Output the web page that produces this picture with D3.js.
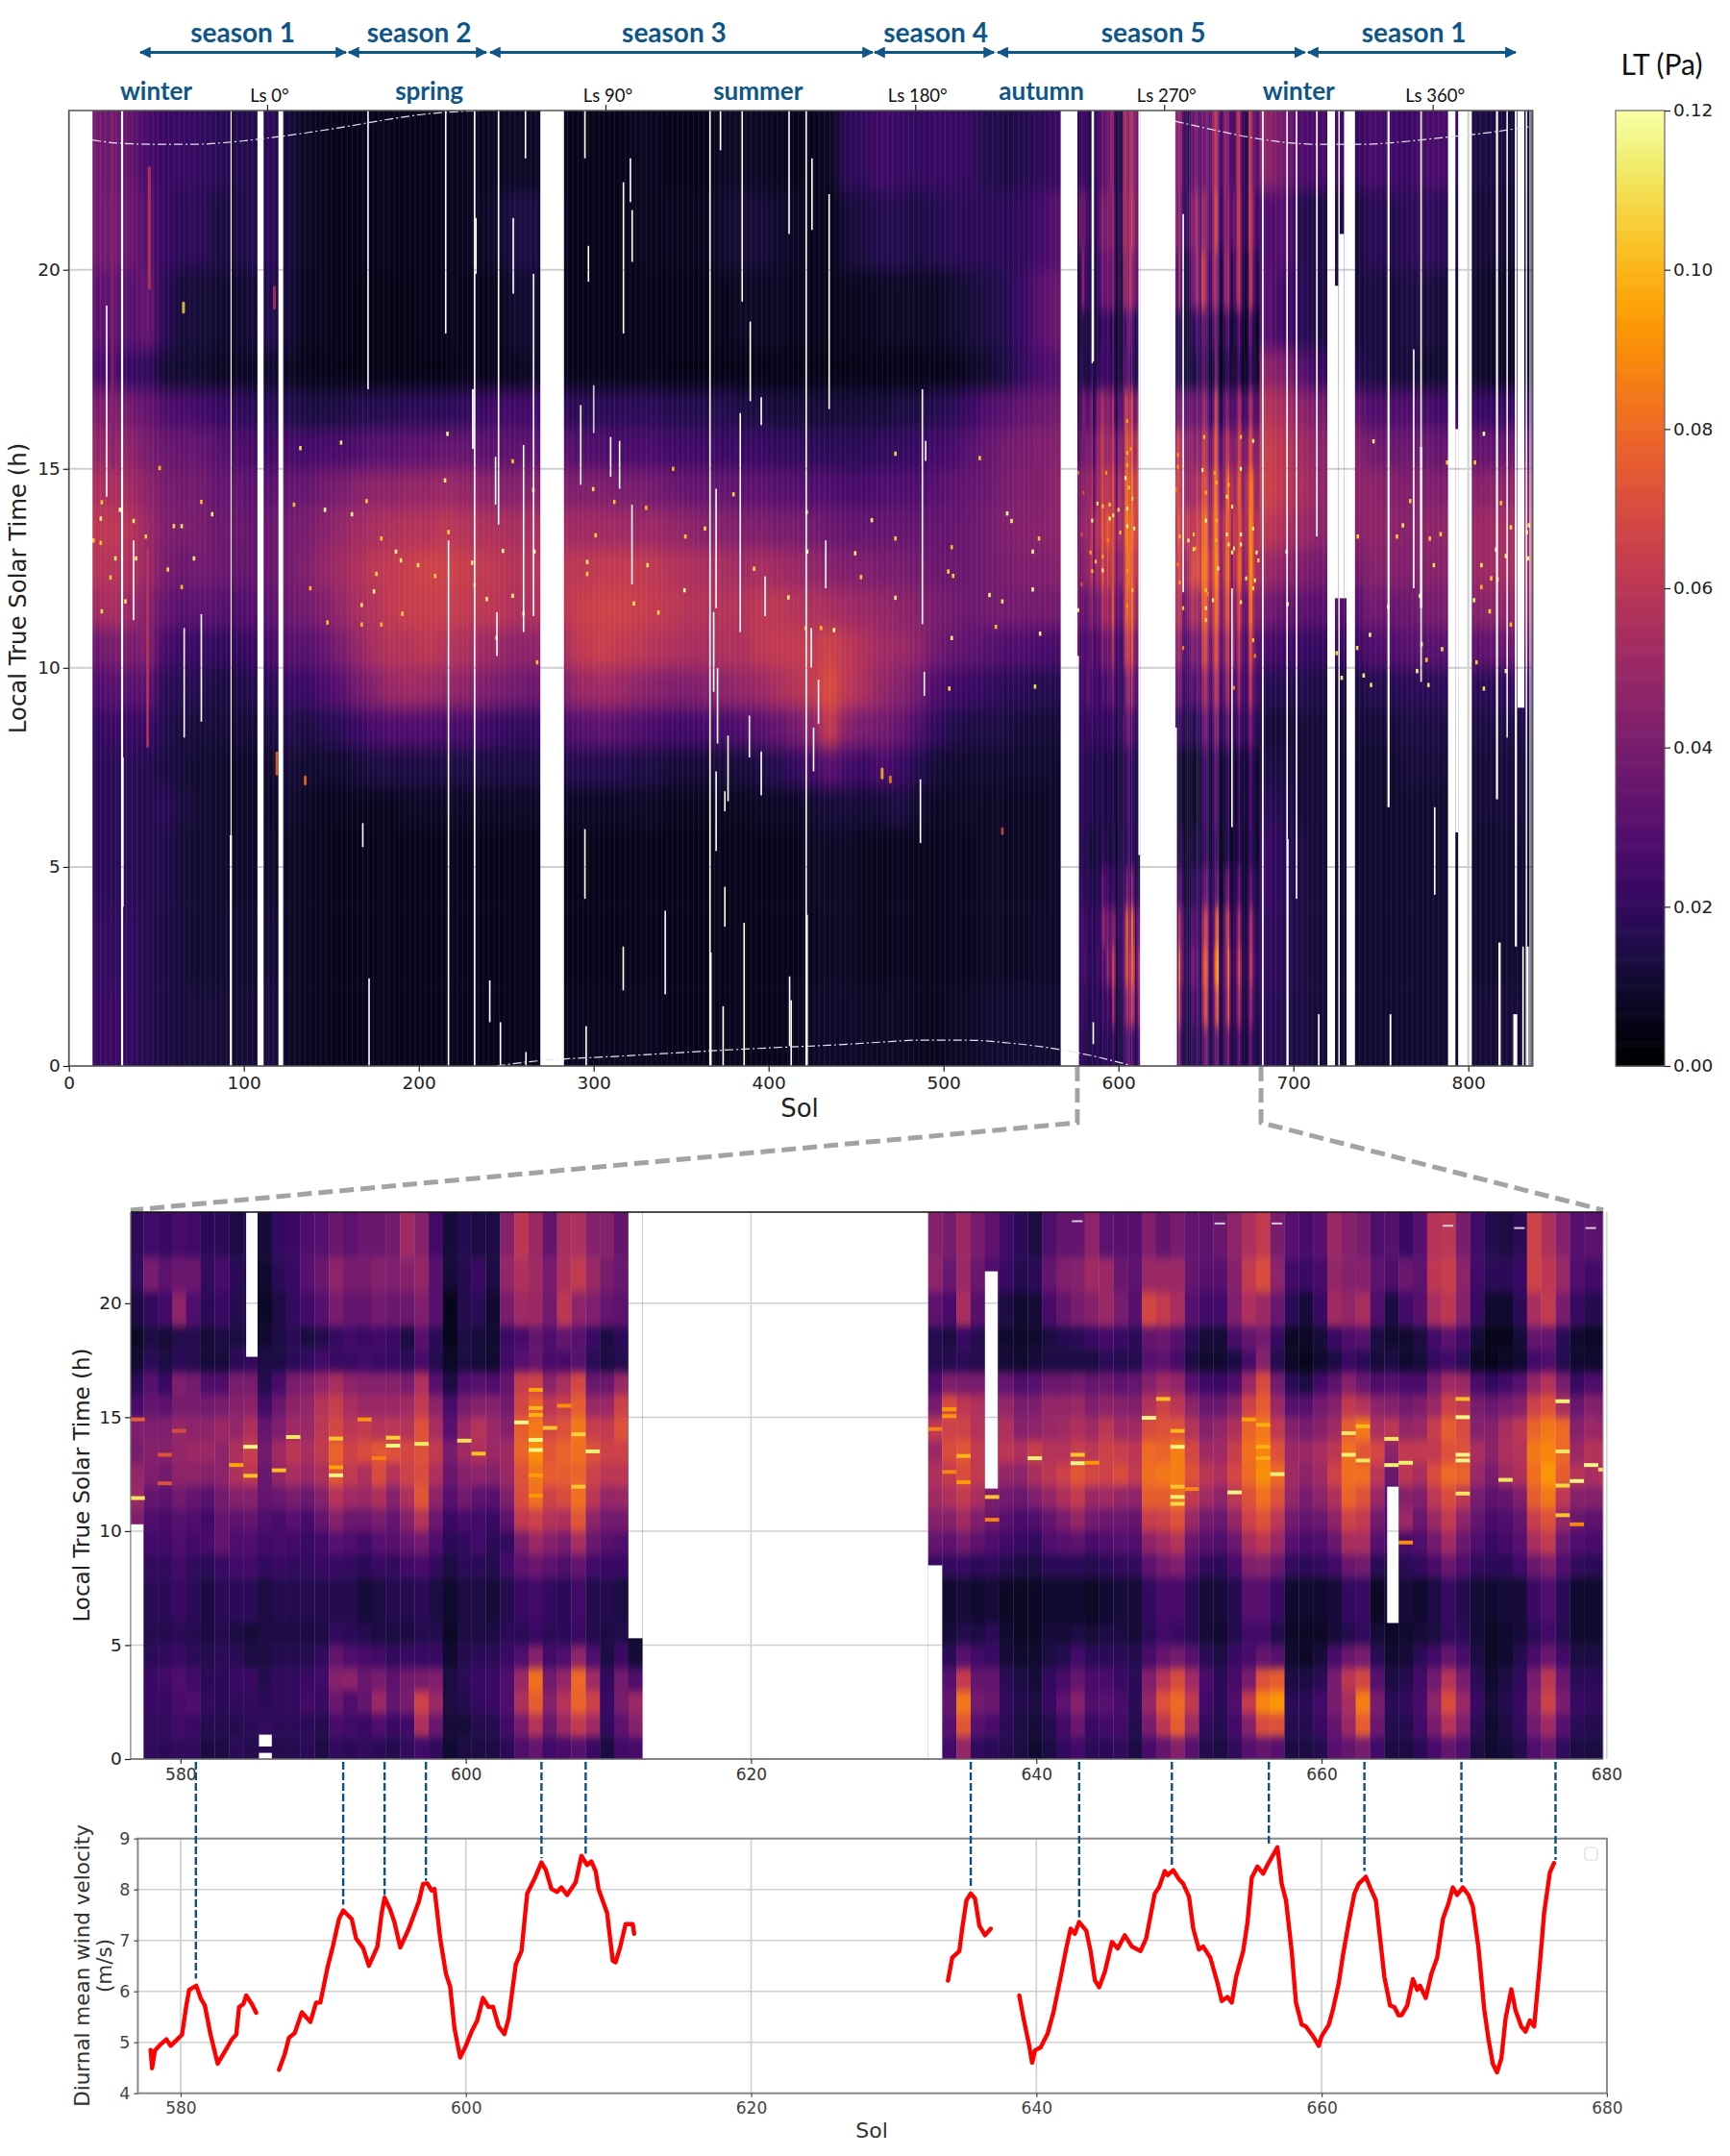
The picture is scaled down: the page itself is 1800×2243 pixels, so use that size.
<!DOCTYPE html>
<html>
<head>
<meta charset="utf-8">
<script src="https://cdn.jsdelivr.net/npm/d3@7"></script>
<style>
  body { margin: 0; background: #fff; }
  text { font-family: "DejaVu Sans", sans-serif; }
</style>
</head>
<body>
<svg id="chart" width="1800" height="2243"></svg>
<script>
// all LT values in mPa (colour scale runs 0 - 120 mPa = 0.12 Pa)
const topBands = [0,2,4,6,7,8,9,10,11,12,13,14,15,16,17,18,20,22,24];
const topSols = [14,20,30,40,50,60,70,80,90,100,110,120,130,140,150,160,170,180,190,200,210,220,230,240,250,260,270,283,290,300,310,320,330,340,350,360,370,380,390,400,410,420,430,440,450,460,470,480,490,500,510,520,530,540,550,560,570,680,690,700,710,720,730,740,750,760,770,780,790,800,810,820,830];
const topLT = [
[22,20,18,18,18,20,28,36,52,58,60,55,48,42,26,32,38,38],
[22,20,18,18,18,22,30,40,54,58,60,55,48,42,26,32,38,36],
[20,20,18,18,18,22,30,40,50,56,58,52,46,38,22,30,36,34],
[16,16,16,16,16,22,32,42,44,50,50,46,40,34,20,34,30,26],
[14,14,15,18,14,16,18,26,34,40,42,40,36,28,12,18,22,22],
[12,12,12,13,12,13,16,22,30,36,40,38,34,26,10,12,18,22],
[12,10,10,10,10,12,16,22,32,38,40,38,34,24,10,12,18,20],
[12,10,10,10,10,12,14,20,30,36,36,34,30,22,8,10,14,18],
[11,10,9,9,9,12,14,20,28,34,36,34,28,20,8,10,14,16],
[12,10,9,9,9,12,16,22,30,34,34,32,26,18,8,12,16,16],
[14,12,10,9,10,14,18,26,32,36,36,32,24,18,10,16,18,18],
[8,8,8,10,12,16,22,30,36,38,38,34,26,16,8,12,12,12],
[7,7,7,8,10,14,22,30,38,42,40,34,24,14,6,7,8,8],
[7,7,7,7,10,16,26,34,42,48,44,38,26,14,6,7,7,7],
[6,6,6,7,10,18,30,40,48,52,48,40,26,14,5,6,6,6],
[6,6,6,7,12,22,38,48,54,56,52,44,28,16,5,5,6,6],
[6,6,6,7,14,26,44,54,58,60,54,46,30,16,5,5,6,6],
[6,6,6,7,14,28,50,58,62,62,56,46,30,16,5,5,6,6],
[6,6,6,8,14,28,52,58,64,64,58,48,32,18,5,5,6,6],
[6,6,6,8,14,28,50,60,64,66,58,48,32,18,5,6,6,6],
[6,6,6,8,14,26,48,58,64,66,60,50,34,18,5,6,6,6],
[6,6,6,8,14,26,46,56,62,64,58,48,34,20,6,6,7,7],
[6,6,6,8,14,24,42,52,60,62,56,46,32,22,6,6,8,7],
[6,6,6,8,14,22,40,50,60,60,56,44,32,24,7,7,10,8],
[6,6,6,8,14,20,38,46,56,58,54,44,32,24,7,10,14,8],
[6,6,6,8,14,20,36,46,56,58,54,44,32,24,8,10,14,8],
[6,6,6,8,14,20,36,46,56,58,54,44,32,24,8,8,10,8],
[7,6,6,8,16,28,46,58,62,60,52,42,30,18,6,6,6,6],
[7,6,6,8,16,30,50,62,64,60,52,42,28,18,6,6,6,6],
[7,6,6,8,16,32,52,64,66,62,52,42,28,18,6,6,6,6],
[7,6,6,8,16,30,50,62,66,62,52,40,26,18,6,6,6,6],
[7,6,6,8,14,28,46,60,64,62,50,40,26,18,6,6,7,7],
[7,6,6,8,14,26,44,58,62,60,50,38,26,18,6,6,7,7],
[6,6,6,7,12,24,42,56,60,58,48,36,24,16,5,6,7,6],
[6,6,6,7,12,24,42,54,58,56,46,34,24,16,5,6,7,6],
[6,6,6,7,12,26,44,54,58,54,44,34,24,16,5,6,7,6],
[6,6,6,7,12,26,46,56,58,54,44,34,22,16,5,6,10,8],
[6,6,6,7,12,28,48,56,58,52,42,32,22,14,5,8,12,8],
[6,6,6,8,14,30,50,60,60,54,42,32,22,14,5,8,12,8],
[6,6,6,8,16,34,54,62,60,52,40,30,20,12,5,8,10,7],
[7,6,6,8,20,38,58,62,58,50,40,30,20,12,5,7,8,6],
[8,7,8,10,24,46,62,62,56,48,38,28,18,12,5,6,6,6],
[9,8,8,12,30,62,70,66,54,44,36,28,18,12,5,6,6,8],
[9,8,8,12,24,44,60,60,52,42,34,26,18,12,5,7,12,18],
[8,7,7,11,22,40,54,56,50,42,34,26,18,12,5,7,14,20],
[8,7,7,12,26,38,48,52,48,40,34,28,20,12,5,8,16,24],
[8,7,7,14,22,34,44,50,46,40,34,28,20,14,5,8,16,22],
[7,7,7,10,16,28,38,46,44,38,34,28,22,14,5,8,14,20],
[7,7,7,8,12,20,28,38,40,36,34,30,24,16,6,8,16,22],
[8,7,7,8,10,16,24,34,38,36,34,32,26,18,6,10,18,22],
[8,7,7,8,10,14,22,32,36,36,36,34,30,22,8,12,18,20],
[10,8,8,8,10,14,20,30,38,38,38,36,34,28,10,14,18,16],
[10,8,8,8,10,14,18,28,38,40,42,40,38,30,14,16,18,14],
[11,8,8,8,10,12,18,28,38,42,44,42,40,34,20,22,20,16],
[11,9,8,8,10,12,16,26,38,42,44,42,42,36,26,30,24,18],
[11,9,9,9,10,12,16,26,38,44,46,46,44,38,30,36,30,22],
[11,9,9,9,10,12,16,26,38,44,46,46,44,38,30,36,30,22],
[18,20,22,18,14,12,16,26,38,50,60,66,64,58,46,30,28,46],
[16,18,18,16,14,12,16,24,34,46,56,60,60,54,42,24,30,38],
[14,14,14,12,12,12,16,22,32,42,50,54,52,46,30,18,16,28],
[12,12,12,12,12,12,14,20,30,38,46,48,46,40,22,14,14,26],
[12,12,12,12,12,12,14,22,30,38,44,46,44,36,18,14,14,24],
[10,10,10,10,10,12,14,22,30,38,44,46,44,34,16,12,12,20],
[10,10,10,10,10,12,16,28,38,44,46,46,38,28,14,14,18,26],
[10,10,10,10,10,12,16,28,36,44,46,44,36,28,12,12,16,24],
[10,10,10,10,12,14,18,30,36,42,44,42,36,28,12,14,18,22],
[10,10,10,10,12,14,18,30,38,44,46,42,36,26,10,14,20,26],
[10,10,10,10,12,14,18,30,40,44,46,42,34,24,10,12,18,26],
[10,10,10,10,12,14,18,30,40,46,48,44,34,22,10,10,14,20],
[12,10,10,12,12,14,18,32,44,50,50,44,34,22,10,10,12,14],
[12,10,10,12,12,14,18,34,46,52,52,46,34,22,8,8,12,14],
[12,10,10,12,12,14,20,36,48,54,54,48,36,22,8,8,10,12],
[10,10,10,12,12,14,20,36,46,52,52,46,34,20,8,8,10,12]
];
// narrow streaks: sol, from h, to h, mPa
const topStreaks = [[46,19.5,22.6,60],[65.5,18.9,19.2,105],[117.5,19,19.6,56],[45,8,13,58],[25,15,24,44],[118.9,7.3,7.9,80],[135.1,7.05,7.3,80],[533.6,5.8,6,66],[464.9,7.2,7.5,100],[469.6,7.1,7.3,88]];

const panelBands = [0,1,2,3,4,5,6,8,9,10,11,12,13,14,15,16,17,18,19,20.5,22,24];
const panelSols = d3.range(577,613).concat(d3.range(633,681));
const panelLT = [
[16,16,16,16,16,16,16,16,16,42,50,48,40,42,26,18,10,8,14,20,18],
[20,20,22,22,18,16,18,20,24,28,34,42,44,42,34,30,18,14,20,40,24],
[18,20,22,24,20,16,18,20,24,26,32,38,44,42,32,22,14,12,24,32,22],
[20,24,26,28,22,18,22,24,28,30,38,46,48,48,40,42,18,16,46,36,26],
[20,22,28,24,18,16,18,20,24,28,34,46,50,46,40,38,16,16,28,36,24],
[14,16,20,18,16,14,14,18,26,24,30,44,50,46,38,28,12,12,18,20,18],
[14,16,18,18,18,16,18,22,34,34,38,46,46,50,40,28,12,14,22,26,18],
[18,16,20,22,18,14,18,24,28,32,44,56,56,48,44,40,18,14,16,18,14],
[16,18,20,22,14,12,18,24,28,34,44,60,64,56,46,40,20,12,14,14,16],
[18,20,18,16,14,14,14,20,24,28,34,36,38,34,24,16,14,10,8,10,12],
[16,18,20,20,16,14,16,22,26,26,36,48,52,42,36,26,14,14,14,18,20],
[16,18,20,20,16,14,16,20,24,30,40,54,60,52,46,40,18,18,20,22,22],
[18,18,24,22,16,14,16,20,22,26,36,50,54,50,48,42,20,14,24,30,28],
[14,16,22,24,20,14,16,22,24,34,44,56,62,60,58,48,24,16,30,36,30],
[20,26,36,44,34,20,16,22,30,44,58,74,78,68,64,54,22,20,40,46,36],
[18,24,28,46,28,18,16,20,28,36,52,62,66,60,54,46,22,24,34,40,32],
[20,22,34,36,26,16,12,18,24,36,50,56,70,62,50,44,24,22,34,40,36],
[18,28,50,40,24,14,14,22,30,40,56,70,74,58,50,44,22,24,38,44,36],
[16,22,34,32,20,14,16,20,30,34,44,58,72,60,50,44,22,22,36,42,38],
[20,24,40,38,22,14,16,24,34,44,56,66,68,58,52,40,18,14,36,44,52],
[24,56,66,40,22,16,18,26,38,58,74,70,72,72,62,56,26,30,42,48,44],
[20,36,50,42,22,16,14,20,28,36,46,56,62,54,46,30,16,18,30,30,24],
[10,12,14,14,10,8,10,14,18,22,30,36,40,30,26,14,8,6,6,12,12],
[14,12,16,18,16,14,14,18,20,26,38,44,52,50,40,28,14,14,16,16,16],
[14,16,20,22,18,14,14,18,24,24,32,46,56,58,44,30,12,12,18,22,14],
[14,16,22,22,18,14,12,16,18,22,30,44,50,50,44,28,10,10,10,14,14],
[18,24,28,28,22,18,16,24,20,32,42,50,52,44,38,34,24,22,40,48,44],
[28,40,56,50,28,18,22,32,40,62,70,72,78,76,68,64,30,26,52,56,60],
[34,58,76,82,44,22,24,36,50,66,82,84,90,84,78,66,34,34,50,52,50],
[24,36,44,38,24,18,20,32,44,58,66,76,74,68,60,46,26,28,38,40,34],
[26,50,58,48,28,18,18,28,40,56,70,76,78,72,64,54,26,34,60,56,54],
[30,62,78,80,46,22,24,34,54,74,82,78,82,84,76,68,30,30,46,62,56],
[22,52,66,52,28,16,16,24,36,46,60,66,72,64,50,36,18,22,42,50,44],
[14,20,22,20,14,14,16,22,30,38,48,60,66,62,50,36,14,14,34,40,44],
[24,32,40,38,22,16,14,22,28,38,50,60,66,72,66,50,16,18,32,36,34],
[26,44,50,28,12,10,10,10,10,10,10,10,10,10,10,10,10,10,10,10,10],
[16,16,16,16,16,16,16,22,34,44,52,56,50,62,40,28,16,16,32,46,44],
[24,30,34,30,18,12,10,20,32,44,56,62,70,66,70,42,16,14,26,36,40],
[48,74,84,62,30,16,12,22,38,52,62,70,74,66,60,40,18,22,54,50,50],
[20,30,38,34,24,14,10,18,32,42,54,62,62,58,56,40,16,16,30,36,40],
[18,26,36,34,22,18,12,20,28,36,40,54,54,50,44,30,14,12,20,28,32],
[16,18,20,18,12,10,8,16,24,30,38,48,60,56,48,34,12,10,14,22,24],
[14,14,16,14,10,8,8,14,22,26,36,46,56,44,40,28,10,8,10,16,18],
[10,12,14,12,10,8,8,14,20,28,42,54,64,46,42,30,12,10,12,18,14],
[14,16,22,20,14,12,10,18,28,34,48,60,58,50,48,36,14,14,26,34,28],
[20,24,32,26,16,12,10,18,30,40,56,66,58,52,48,36,14,16,34,42,34],
[24,36,44,34,24,14,10,18,32,48,62,74,64,56,50,38,14,18,40,44,34],
[18,22,28,26,18,12,8,16,26,38,50,68,60,52,42,34,14,22,44,52,46],
[18,24,30,26,18,14,10,18,28,36,52,66,66,60,46,36,18,24,50,50,32],
[20,24,26,22,18,14,12,20,30,36,48,70,64,52,44,32,16,22,40,36,30],
[14,16,18,18,16,12,12,20,28,34,46,62,60,52,42,34,16,18,30,32,30],
[26,40,48,42,26,18,20,32,46,64,76,82,80,70,58,44,30,34,68,50,42],
[34,60,72,58,34,24,26,38,52,66,76,84,78,72,66,52,32,36,62,50,34],
[44,76,80,70,38,22,26,42,58,72,82,86,86,72,60,48,26,30,54,50,40],
[30,52,62,52,30,18,18,28,36,50,62,72,68,58,46,30,14,18,30,34,34],
[16,20,24,26,18,12,12,20,30,38,52,60,52,44,36,24,10,12,24,30,32],
[14,16,18,18,14,10,12,18,28,36,46,56,52,48,36,22,10,12,24,30,36],
[20,24,28,26,22,16,16,26,36,48,60,68,64,56,44,28,14,26,42,44,46],
[30,44,62,40,26,24,30,42,54,66,72,80,82,78,66,50,26,34,56,62,56],
[34,70,88,72,34,24,30,44,60,72,82,90,88,84,76,70,44,38,50,70,62],
[30,72,92,76,30,16,22,36,50,60,72,80,72,62,50,38,16,22,36,46,40],
[14,16,18,14,10,8,10,20,30,38,48,52,50,44,30,18,8,8,18,24,30],
[14,16,18,14,8,8,10,18,26,34,40,46,50,40,30,14,6,8,12,22,26],
[16,22,24,18,12,8,10,20,28,36,46,52,54,44,38,24,10,12,22,26,30],
[30,34,40,40,26,12,12,24,36,46,56,66,60,52,44,32,14,22,52,48,50],
[34,50,54,60,36,16,20,36,54,66,78,82,82,76,62,44,22,28,48,44,44],
[40,76,86,68,40,20,22,38,54,62,72,82,74,84,58,36,18,30,54,44,40],
[24,36,40,30,18,12,8,18,30,38,50,60,68,56,46,28,12,14,28,32,28],
[14,16,18,14,10,8,10,14,24,26,30,36,46,60,44,30,14,10,14,28,30],
[14,16,20,16,12,10,12,18,26,50,44,60,62,48,38,26,10,10,24,36,22],
[18,24,26,24,18,12,10,20,28,36,42,54,62,50,42,26,12,14,30,32,30],
[26,40,46,38,24,14,14,26,38,50,60,70,62,64,50,40,20,24,54,60,58],
[34,58,70,58,34,20,22,36,52,62,70,80,72,76,66,52,24,32,60,64,60],
[28,42,50,40,26,18,16,28,36,46,60,78,72,70,62,50,18,24,44,46,40],
[14,18,22,18,14,12,12,20,28,34,40,50,54,44,40,26,8,12,22,24,24],
[10,10,12,10,8,8,10,18,22,26,32,40,46,44,36,20,6,6,10,18,16],
[12,14,16,14,10,10,12,18,24,28,34,52,56,54,40,24,8,6,10,18,14],
[16,20,22,20,16,12,12,24,30,34,42,56,58,60,44,30,10,12,18,22,18],
[28,38,44,40,26,18,22,36,54,64,76,82,84,78,66,48,24,34,54,66,66],
[36,52,66,60,36,24,28,42,62,72,84,92,88,84,72,58,28,34,62,60,56],
[20,30,40,36,24,16,18,28,36,48,60,76,80,80,54,40,16,18,40,50,44],
[14,18,22,18,14,10,10,20,28,36,44,58,50,44,36,22,10,10,22,28,30],
[14,16,20,18,14,10,10,18,26,32,44,54,58,50,44,28,10,8,16,24,32],
[14,16,20,18,14,10,10,18,26,32,44,56,58,48,42,28,10,8,16,26,30]
];
// bright single readings in the zoomed heatmap: sol, hour, mPa
const panelHot = [[577,11.45,112],[577,14.9,76],[579,13.35,72],[579,12.1,72],[580,14.4,70],[584,12.9,96],[585,13.7,116],[585,12.43,102],[587,12.67,102],[588,14.13,112],[591,14.06,104],[591,12.8,96],[591,12.45,116],[593,14.9,92],[594,13.2,86],[595,14.1,106],[595,13.75,116],[597,13.83,112],[600,13.97,110],[601,13.4,102],[604,14.77,116],[605,14,116],[605,13.56,116],[605,16.2,96],[605,15.4,100],[605,15.1,98],[605,12.45,94],[605,11.55,92],[606,14.53,104],[607,15.5,90],[608,14.25,106],[608,11.95,104],[609,13.5,114],
[633,14.48,86],[634,15.35,92],[634,15.05,92],[635,13.3,100],[634,12.6,88],[635,12.15,94],[637,11.5,104],[637,10.5,86],[640,13.2,114],[643,13.35,104],[643,12.98,116],[644,13,92],[648,14.97,116],[649,15.8,102],[650,13.7,116],[650,14.4,100],[650,11.95,104],[650,11.5,114],[650,11.2,108],[651,11.85,88],[654,11.7,116],[655,14.9,96],[656,14.66,98],[656,13.7,98],[656,13.2,98],[657,12.5,114],[662,14.3,112],[662,13.35,114],[663,14.6,100],[663,13.1,112],[665,14.05,112],[665,12.9,114],[666,13,114],[666,9.5,90],[670,15.8,102],[670,15,116],[670,13.35,116],[670,13.1,116],[670,11.65,112],[673,12.25,112],[677,15.7,114],[677,13.5,112],[677,12,108],[678,12.2,116],[679,12.9,116],[677,10.7,104],[678,10.3,88],[680,12.7,110]];
const panelPale = [[643,23.6],[653,23.5],[657,23.5],[669,23.4],[674,23.3],[679,23.3]];

// hot specks of the full record: sol, hour
const specks = [[29.2,13.97],[18.8,14.16],[18.2,13.75],[14,13.2],[18.2,13.14],[23.8,12.27],[18.8,11.42],[26.6,12.75],[38.4,12.75],[44,13.3],[37,13.69],[51.9,15.02],[64.5,13.56],[75.7,14.17],[71.5,12.75],[64.5,12.03],[32.3,11.67],[56.6,12.47],[60,13.56],[81.9,13.86],[138,12],[147.8,11.14],[128.7,14.1],[155.6,15.66],[132.3,15.52],[146.4,13.97],[161.8,13.86],[170.2,14.19],[175.8,12.36],[167.4,11.58],[178.6,11.09],[190.6,11.36],[167.4,11.09],[174.4,11.92],[216.4,15.88],[215,14.71],[217,13.41],[230.5,12.64],[231.9,12.08],[238.9,11.73],[244.5,10.75],[248.1,12.94],[253.7,15.19],[253.7,11.81],[259.9,11.36],[266.1,12.92],[265.5,14.47],[267.7,10.14],[301.1,13.33],[296.3,12.66],[296.3,12.36],[299.7,14.49],[311.8,14.17],[330,14.02],[323,11.62],[337,11.39],[330.8,12.58],[351.9,11.95],[352.4,13.3],[345.4,15],[363.6,13.5],[379.9,14.36],[391.7,12.49],[411.3,11.77],[421.7,13.91],[422,12.92],[421.1,11],[430,11],[189.8,12.7],[199.6,12.58],[209.4,12.31],[187,12.92],[178.6,13.25],[472.5,15.38],[520.7,15.27],[459,13.71],[538.9,13.69],[536.4,13.88],[504.7,13.03],[449.5,12.88],[452.8,12.28],[472.5,13.25],[502.7,12.42],[505.5,12.31],[533.6,11.67],[526.3,11.83],[504.7,10.75],[437.4,10.95],[529.9,11.03],[551,12.92],[551,11.97],[554.6,13.25],[555.2,10.86],[472.5,11.76],[503.3,9.48],[552.3,9.53],[696.2,12.92],[696.7,11.6],[724.8,10.37],[727.6,9.75],[736.5,10.5],[743.8,10.83],[744.4,9.57],[740.2,9.81],[736.8,13.3],[745.8,15.69],[759.2,13.3],[762.6,13.58],[766.8,14.19],[754.2,11.53],[772.4,11.81],[773.3,10.59],[778,13.25],[784.2,13.36],[780.3,12.58],[787.9,15.16],[785,10.47],[770.7,9.92],[776.1,10.2],[777.2,9.57],[803.8,15.16],[808.9,15.88],[815.9,12.97],[816.7,12.22],[821.5,12.81],[807.5,12.03],[803.3,11.7],[812.2,11.42],[818.7,14.14],[824.3,13.53],[833.5,13.41],[831.3,11.36],[821.5,9.92],[808.9,9.48],[804.7,10.14],[824.3,11.09],[834.1,12.75],[834.6,13.58],[807.5,12.58],[813.1,12.25]];

// missing data: sol from, sol to, hour from, hour to
const topGaps = [[0,13.5,0,24],[29.8,31,0,24],[30,31.3,4,7.75],[92,93.2,0,5.8],[92.4,93,5.8,24],[107.8,111.3,0,24],[119.8,122.5,0,24],[230.4,231.4,15.5,17],[231.5,232.4,0,24],[269.5,283,0,24],[567,576.5,0,24],[576.5,577.4,0,10.3],[584.6,585.4,17.65,24],[611.4,612.4,5.3,24],[612.4,632.4,0,24],[632.4,633.4,0,8.5],[682,683,0,24],[696,697,0,5.7],[719.4,723.8,0,24],[725.7,726.5,0,24],[729,730.4,11.75,24],[730.4,735.2,0,24],[723.8,725.7,11.75,19.6],[726.5,729,11.75,20.9],[753.8,755,6.5,24],[755,756,0,1.3],[772.4,773.6,11.5,15.55],[788.4,792.6,0,24],[794.2,802,0,24],[792.6,794.2,5.87,16],[815.8,817,6.7,24],[817.2,818.5,0,3.1],[821.8,822.6,8.25,24],[825.7,828,0,1.3],[826.6,827.8,3,24],[828.2,832,9,24],[832.8,833.6,0,24],[835,835.6,0,24],[836.2,837,0,24]];
const panelGaps = [[576,577.4,0,10.3],[584.6,585.4,17.65,24],[585.5,586.4,0.55,1.07],[585.5,586.4,0,0.27],[611.4,612.4,5.3,24],[612.4,632.4,0,24],[632.4,633.4,0,8.5],[636.4,637.3,11.87,21.4],[664.6,665.4,5.97,11.95]];
// thin dropped lines: sol, hour from, hour to
const topLines = [[21.6,14.3,19.1],[37,11.2,13.2],[65.9,8.25,11],[75.7,8.65,11.35],[168,5.5,6.1],[171,17,24],[171.6,0,2.2],[215.4,18.4,24],[217,0,13.2],[232.7,19.9,21.3],[254,19.4,21.3],[261,22.8,24],[265.6,11.3,19.9],[245.6,13.6,24],[243.9,14.1,15.3],[259.9,10.9,15.6],[244.7,10.3,11.4],[240.6,1.1,2.15],[246.7,0,1.1],[261.3,0,0.35],[295,22.8,24],[297,19.7,20.6],[321,21.7,22.8],[322,20.2,21.5],[317,18.4,22.2],[366.5,0,24],[372.5,23,24],[384.9,19.2,24],[389.5,16.7,18.7],[411.7,20.9,24],[421.5,0,24],[424.8,21,22.8],[434.6,16.5,21.9],[292.6,14.6,16.6],[300,15.9,17.1],[309.7,14.8,15.8],[314.8,14.5,15.7],[321.9,12.1,14.1],[370,11.5,14.5],[368.6,9.4,11.4],[370.8,8.1,10],[383.8,10.9,16.4],[395.8,16.1,16.8],[389,7.75,8.8],[376.8,6.65,8.3],[375,6.4,6.9],[370,5.4,7.4],[395.8,6.8,7.9],[424.4,10,11],[428.5,8.6,9.7],[425.7,7.4,8.5],[398,11.3,12.3],[295,4.2,5.95],[316.9,1.9,3],[340.9,1.8,3.9],[375,3.5,4.5],[367,0,2.85],[374,0,1.5],[386,0,3.6],[412,0.5,2.25],[412.9,0,1.65],[422,0,3.8],[295.7,0,1],[432.7,12,13.2],[487.9,11.1,17],[489.8,15.2,15.7],[489,9.3,9.9],[486.8,5.6,7.2],[585.6,17.7,24],[585.6,0.55,1.1],[637,11.9,21.4],[664.9,6,12],[696.8,0,5.7],[696.4,5.7,24],[701.8,4.2,24],[713.4,13.3,24],[714.5,0,1.3],[768.8,12,18],[773,9.65,24],[780.8,4.3,6.5],[831.3,0,3],[834.1,0,3]];

// pale terminator curves: sol + hour
const curveSolA = [13.5,28.4,52.1,71,93.1,112,137.2,156.2,181.4,203.5,236.6];
const curveHourA = [23.26,23.18,23.15,23.15,23.21,23.3,23.45,23.58,23.77,23.91,24];
const curveSolB = [244.5,261.9,284,307.6,339,371,402.5,433.9,464.6,486.7,512,537,565.6,587.6,608];
const curveHourB = [0,0.1,0.18,0.23,0.31,0.39,0.46,0.52,0.6,0.65,0.65,0.58,0.42,0.23,0];
const curveSolC = [632.4,657,676,695,717,739,761,783,805,836];
const curveHourC = [23.73,23.49,23.32,23.2,23.15,23.15,23.21,23.31,23.41,23.6];

// annotations
const seasonNames = ["season 1","season 2","season 3","season 4","season 5","season 1"];
const seasonFrom = [40.8,160,240.8,460.6,531,708.4];
const seasonTo = [158.4,238.6,459.5,528.8,706.5,827];
const seasonMid = [99.4,200.2,346,495.5,620,768.9];
const earthNames = ["winter","spring","summer","autumn","winter"];
const earthMid = [49.9,206,394,556,703];
const lsNames = ["Ls 0°","Ls 90°","Ls 180°","Ls 270°","Ls 360°"];
const lsSols = [113.6,307,484.1,626.4,779.9];

// diurnal mean wind, four runs of data
const windSolA = [577.9,578,578.2,578.6,579,579.3,579.7,580.1,580.4,580.6,581.1,581.4,581.7,582.1,582.6,583,583.6,583.9,584.1,584.4,584.6,585,585.3];
const windA = [4.85,4.49,4.84,4.96,5.06,4.93,5.04,5.15,5.72,6.03,6.11,5.87,5.72,5.15,4.58,4.77,5.06,5.15,5.69,5.75,5.92,5.75,5.58];
const windSolB = [586.9,587.3,587.6,588,588.5,589.1,589.5,589.8,590.3,590.7,591.1,591.4,592,592.3,592.8,593.2,593.8,594.1,594.3,594.7,595,595.4,596,596.7,597,597.3,597.6,597.8,598.2,598.6,598.9,599.2,599.6,600,600.4,600.8,601.2,601.6,601.9,602.3,602.7,603,603.5,603.9,604.3,604.8,605.3,605.6,606,606.4,606.7,607.1,607.7,608.1,608.5,608.8,609.1,609.3,609.9,610.3,610.5,610.8,611.2,611.7,611.8];
const windB = [4.46,4.77,5.09,5.18,5.59,5.4,5.78,5.78,6.47,6.91,7.42,7.59,7.42,7.04,6.85,6.5,6.88,7.54,7.84,7.6,7.35,6.86,7.23,7.76,8.11,8.12,7.98,8.01,7.04,6.35,6.09,5.28,4.7,4.93,5.21,5.43,5.87,5.69,5.7,5.31,5.16,5.47,6.53,6.79,7.92,8.2,8.53,8.39,8.01,7.95,8.04,7.89,8.14,8.66,8.48,8.55,8.36,8.01,7.54,6.6,6.57,6.85,7.32,7.32,7.13];
const windSolC = [633.8,634.1,634.6,634.8,635.1,635.4,635.7,636,636.4,636.8];
const windC = [6.21,6.66,6.79,7.23,7.79,7.92,7.82,7.29,7.1,7.23];
const windSolD = [638.8,639.1,639.5,639.7,639.9,640.3,640.8,641.2,641.7,642.1,642.4,642.7,643,643.5,643.8,644.1,644.4,644.8,645.3,645.7,646.2,646.7,647.3,647.7,648.3,648.6,649,649.2,649.6,650,650.3,650.7,651,651.4,651.7,652.2,652.7,653,653.4,653.7,654,654.5,654.8,655.1,655.5,655.9,656.2,656.9,657.2,657.5,657.9,658.2,658.6,658.9,659.4,659.8,660,660.5,660.8,661.2,661.5,661.9,662.3,662.6,663.1,663.4,663.8,664.1,664.4,664.8,665.1,665.4,665.6,666,666.4,666.7,666.9,667.3,667.7,668.1,668.5,668.9,669.2,669.5,669.9,670.3,670.6,671,671.4,671.7,672,672.3,672.6,672.9,673.3,673.6,674,674.3,674.6,674.9,675.3,675.6,676,676.3];
const windD = [5.92,5.47,4.93,4.6,4.84,4.9,5.18,5.59,6.28,6.85,7.23,7.13,7.36,7.19,6.79,6.22,6.08,6.38,6.97,6.84,7.1,6.88,6.79,7.04,7.92,8.04,8.36,8.28,8.38,8.2,8.11,7.86,7.23,6.82,6.88,6.66,6.16,5.81,5.89,5.78,6.28,6.79,7.35,8.23,8.45,8.31,8.48,8.83,8.11,7.79,6.79,5.78,5.35,5.31,5.12,4.93,5.12,5.34,5.65,6.16,6.72,7.35,7.92,8.11,8.25,8.04,7.79,7.04,6.28,5.72,5.69,5.53,5.53,5.72,6.24,6.03,6.11,5.87,6.35,6.66,7.42,7.73,8.04,7.89,8.04,7.89,7.67,6.85,5.65,5.06,4.58,4.41,4.68,5.47,6.04,5.62,5.31,5.21,5.43,5.31,6.53,7.54,8.33,8.52];
// dashed links heatmap -> wind peak
const peakSols = [581.07,591.4,594.3,597.2,605.3,608.4,635.4,643,649.5,656.3,663,669.8,676.4];
const peakWind = [6.25,7.7,7.89,8.17,8.61,8.7,8.01,7.45,8.45,8.86,8.36,8.14,8.58];

const topTicksX = [0,100,200,300,400,500,600,700,800];
const hourTicks = [0,5,10,15,20];
const panelTicksX = [580,600,620,640,660,680];
const windTicks = [4,5,6,7,8,9];
const cbTicks = [0,20,40,60,80,100,120];

const BLUE = "#0f5688", GRID = "#cfcfcf", SPINE = "#555";
const svg = d3.select("#chart");
const defs = svg.append("defs");
const color = v => d3.interpolateInferno(Math.min(v, 120) / 120);

const xTop = d3.scaleLinear().domain([0, 836.8]).range([71.7, 1594.7]);
const yTop = d3.scaleLinear().domain([0, 24]).range([1109, 115]);
const xPanel = d3.scaleLinear().domain([576.5, 679.75]).range([135.9, 1668.1]);
const yPanel = d3.scaleLinear().domain([0, 24]).range([1830, 1261]);
const xWind = d3.scaleLinear().domain([577, 680]).range([143.4, 1671.9]);
const yWind = d3.scaleLinear().domain([4, 9]).range([2177.7, 1912.7]);
const yBar = d3.scaleLinear().domain([0, 120]).range([1109, 115]);

function gridLines(g, xs, ys, x, y, w) {
  g.selectAll(".gv").data(xs).join("line")
    .attr("x1", x).attr("x2", x).attr("y1", y.range()[0]).attr("y2", y.range()[1])
    .attr("stroke", GRID).attr("stroke-width", w);
  g.selectAll(".gh").data(ys).join("line")
    .attr("x1", x.range()[0]).attr("x2", x.range()[1]).attr("y1", y).attr("y2", y)
    .attr("stroke", GRID).attr("stroke-width", w);
}
function makeMask(id, x, y, gaps) {
  const m = defs.append("mask").attr("id", id).attr("maskUnits", "userSpaceOnUse")
    .attr("x", 0).attr("y", 0).attr("width", 1800).attr("height", 2243);
  m.append("rect").attr("x", x.range()[0]).attr("y", y.range()[1])
    .attr("width", x.range()[1] - x.range()[0]).attr("height", y.range()[0] - y.range()[1]).attr("fill", "#fff");
  m.selectAll(".gap").data(gaps).join("rect")
    .attr("x", d => x(d[0])).attr("width", d => x(d[1]) - x(d[0]))
    .attr("y", d => y(d[3])).attr("height", d => y(d[2]) - y(d[3])).attr("fill", "#000");
  return m;
}
function styleAxis(g, size, col) {
  g.selectAll("text").attr("font-size", size).attr("fill", col).attr("font-family", "DejaVu Sans");
  g.selectAll("line").attr("stroke", col).attr("stroke-width", 1.2);
  g.select(".domain").remove();
}
function blur(id, sx, sy) {
  defs.append("filter").attr("id", id).attr("filterUnits", "userSpaceOnUse")
    .attr("x", -200).attr("y", -200).attr("width", 2200).attr("height", 2700)
    .attr("color-interpolation-filters", "sRGB")
    .append("feGaussianBlur").attr("stdDeviation", `${sx} ${sy}`);
}
blur("coarseBlur", 5, 9);
blur("colBlur", 0.25, 7);
blur("rowBlur", 0, 4.5);

// ---- top heatmap
gridLines(svg.append("g"), topTicksX, hourTicks, xTop, yTop, 2);

const topMask = makeMask("topMask", xTop, yTop, topGaps);
topMask.selectAll(".ln").data(topLines).join("rect")
  .attr("x", d => xTop(d[0]) - 0.8).attr("width", 1.6)
  .attr("y", d => yTop(d[2])).attr("height", d => yTop(d[1]) - yTop(d[2])).attr("fill", "#000");

const heat = svg.append("g").attr("mask", "url(#topMask)");

const coarse = heat.append("g").attr("filter", "url(#coarseBlur)");
topSols.forEach((s, i) => {
  const next = i + 1 < topSols.length ? topSols[i + 1] : 900;
  const from = i === 0 ? -40 : s === 680 ? 660 : s;
  const to = s === 570 ? 600 : next;
  topLT[i].forEach((v, b) => {
    const y0 = b === 0 ? 1180 : yTop(topBands[b]);
    const y1 = b === topLT[i].length - 1 ? 40 : yTop(topBands[b + 1]);
    coarse.append("rect").attr("x", xTop(from)).attr("width", xTop(to) - xTop(from) + 0.5)
      .attr("y", y1).attr("height", y0 - y1 + 0.5).attr("fill", color(v));
  });
});
const fine = heat.append("g").attr("filter", "url(#colBlur)");
panelSols.forEach((s, i) => {
  panelLT[i].forEach((v, b) => {
    const y0 = b === 0 ? 1180 : yTop(panelBands[b]);
    const y1 = b === 20 ? 40 : yTop(panelBands[b + 1]);
    fine.append("rect").attr("x", xTop(s - 0.6)).attr("width", xTop(s + 0.4) - xTop(s - 0.6) + 0.3)
      .attr("y", y1).attr("height", y0 - y1 + 0.5).attr("fill", color(v));
  });
});
heat.selectAll(".streak").data(topStreaks).join("rect")
  .attr("x", d => xTop(d[0]) - 1.5).attr("width", 3).attr("rx", 1.5)
  .attr("y", d => yTop(d[2])).attr("height", d => yTop(d[1]) - yTop(d[2]))
  .attr("fill", d => color(d[3])).attr("opacity", 0.85);
heat.selectAll(".hair").data(d3.range(15, 837, 3)).join("line")
  .attr("x1", xTop).attr("x2", xTop).attr("y1", 115).attr("y2", 1109)
  .attr("stroke", "#fff").attr("stroke-opacity", 0.1).attr("stroke-width", 0.8);
heat.selectAll(".speck").data(specks).join("rect")
  .attr("x", d => xTop(d[0]) - 1.3).attr("width", 2.6)
  .attr("y", d => yTop(d[1]) - 2.2).attr("height", 4.4)
  .attr("fill", d => color(100 + (d[1] % 1) * 18));
heat.selectAll(".hot").data(panelHot).join("rect")
  .attr("x", d => xTop(d[0] - 0.6)).attr("width", 2.2)
  .attr("y", d => yTop(d[1]) - 2).attr("height", 4)
  .attr("fill", d => color(d[2]));

[[curveSolA, curveHourA], [curveSolB, curveHourB], [curveSolC, curveHourC]].forEach(([sx, hy]) => {
  svg.append("path").datum(sx.map((s, i) => [s, hy[i]]))
    .attr("d", d3.line().x(d => xTop(d[0])).y(d => yTop(d[1])).curve(d3.curveMonotoneX))
    .attr("fill", "none").attr("stroke", "#e8e4ee").attr("stroke-width", 1.2).attr("stroke-dasharray", "9,3,2,3");
});

// spines + axes of top heatmap
svg.append("path").attr("d", `M${xTop.range()[0]},115V1109H${xTop.range()[1]}V115Z`)
  .attr("fill", "none").attr("stroke", SPINE).attr("stroke-width", 1.6);
const axTopX = svg.append("g").attr("transform", "translate(0,1109)")
  .call(d3.axisBottom(xTop).tickValues(topTicksX).tickFormat(d3.format("d")).tickPadding(5));
styleAxis(axTopX, 18.5, "#222");
const axTopY = svg.append("g").attr("transform", `translate(${xTop.range()[0]},0)`)
  .call(d3.axisLeft(yTop).tickValues(hourTicks).tickFormat(d3.format("d")));
styleAxis(axTopY, 18.5, "#222");
svg.append("text").attr("x", 832).attr("y", 1162).attr("text-anchor", "middle").attr("font-size", 26).attr("fill", "#222").text("Sol");
svg.append("text").attr("transform", "translate(27,612) rotate(-90)").attr("text-anchor", "middle")
  .attr("font-size", 24.4).attr("fill", "#222").text("Local True Solar Time (h)");

// seasons on top
defs.append("marker").attr("id", "head").attr("viewBox", "0 0 10 10").attr("refX", 9).attr("refY", 5)
  .attr("markerWidth", 4).attr("markerHeight", 4).attr("markerUnits", "strokeWidth").attr("orient", "auto-start-reverse")
  .append("path").attr("d", "M0,0L10,5L0,10Z").attr("fill", BLUE);
svg.selectAll(".sarrow").data(seasonFrom).join("line")
  .attr("x1", d => xTop(d)).attr("x2", (d, i) => xTop(seasonTo[i])).attr("y1", 54.5).attr("y2", 54.5)
  .attr("stroke", BLUE).attr("stroke-width", 3)
  .attr("marker-start", "url(#head)").attr("marker-end", "url(#head)");
svg.selectAll(".slabel").data(seasonNames).join("text")
  .attr("x", (d, i) => xTop(seasonMid[i])).attr("y", 44).attr("text-anchor", "middle")
  .attr("font-size", 28).attr("font-weight", 700).attr("fill", BLUE)
  .style("font-family", "Lato").text(d => d);
svg.selectAll(".elabel").data(earthNames).join("text")
  .attr("x", (d, i) => xTop(earthMid[i])).attr("y", 104).attr("text-anchor", "middle")
  .attr("font-size", 26).attr("font-weight", 700).attr("fill", BLUE)
  .style("font-family", "Lato").text(d => d);
svg.selectAll(".lslabel").data(lsNames).join("text")
  .attr("x", (d, i) => xTop(lsSols[i]) + 2).attr("y", 106).attr("text-anchor", "middle")
  .attr("font-size", 18.5).attr("fill", "#111").style("font-family", "Lato").text(d => d);
svg.selectAll(".lstick").data(lsSols).join("line")
  .attr("x1", xTop).attr("x2", xTop).attr("y1", 109).attr("y2", 115).attr("stroke", "#222").attr("stroke-width", 1.2);

// colour bar
svg.selectAll(".cb").data(d3.range(0, 120, 0.25)).join("rect")
  .attr("x", 1681).attr("width", 51).attr("y", d => yBar(d + 0.25)).attr("height", d => yBar(d) - yBar(d + 0.25) + 0.6)
  .attr("fill", d => color(d));
svg.append("rect").attr("x", 1681).attr("y", 115).attr("width", 51).attr("height", 994)
  .attr("fill", "none").attr("stroke", "#666").attr("stroke-width", 1.2);
const axBar = svg.append("g").attr("transform", "translate(1732,0)")
  .call(d3.axisRight(yBar).tickValues(cbTicks).tickFormat(d => (d / 1000).toFixed(2)));
styleAxis(axBar, 18.5, "#222");
svg.append("text").attr("x", 1729).attr("y", 78).attr("text-anchor", "middle").attr("font-size", 30)
  .attr("fill", "#111").style("font-family", "Lato").text("LT (Pa)");

// grey zoom connectors
const zoomLink = d3.line();
svg.append("path").attr("d", zoomLink([[xTop(576.5), 1110], [xTop(576.5), 1168], [xPanel(576.5), 1259]]))
  .attr("fill", "none").attr("stroke", "#a3a3a3").attr("stroke-width", 5).attr("stroke-dasharray", "15,7");
svg.append("path").attr("d", zoomLink([[xTop(681.5), 1110], [xTop(681.5), 1168], [xPanel(679.75), 1259]]))
  .attr("fill", "none").attr("stroke", "#a3a3a3").attr("stroke-width", 5).attr("stroke-dasharray", "15,7");

// ---- zoomed heatmap
gridLines(svg.append("g"), panelTicksX, hourTicks, xPanel, yPanel, 1.5);
makeMask("panelMask", xPanel, yPanel, panelGaps);
const cellsG = svg.append("g").attr("mask", "url(#panelMask)");
const cells = cellsG.append("g").attr("filter", "url(#rowBlur)");
panelSols.forEach((s, i) => {
  panelLT[i].forEach((v, b) => {
    const x0 = Math.max(s - 0.6, 576.5), x1 = Math.min(s + 0.4, 679.75);
    const y0 = b === 0 ? 1860 : yPanel(panelBands[b]);
    const y1 = b === 20 ? 1230 : yPanel(panelBands[b + 1]);
    cells.append("rect").attr("x", xPanel(x0)).attr("width", xPanel(x1) - xPanel(x0) + 0.3)
      .attr("y", y1).attr("height", y0 - y1 + 0.3)
      .attr("fill", color(v));
  });
});
cellsG.selectAll(".hot").data(panelHot).join("rect")
  .attr("x", d => xPanel(Math.max(d[0] - 0.6, 576.5))).attr("width", xPanel(1) - xPanel(0))
  .attr("y", d => yPanel(d[1]) - 2).attr("height", 4)
  .attr("fill", d => color(d[2]));
svg.selectAll(".pale").data(panelPale).join("rect")
  .attr("x", d => xPanel(d[0] - 0.5)).attr("width", 11)
  .attr("y", d => yPanel(d[1]) - 1).attr("height", 2)
  .attr("fill", "#d9c8dd");
svg.append("line").attr("x1", 136).attr("x2", 1668).attr("y1", 1261).attr("y2", 1261).attr("stroke", "#111").attr("stroke-width", 1.5);
svg.append("line").attr("x1", 135.9).attr("x2", 135.9).attr("y1", 1261).attr("y2", 1830).attr("stroke", "#777").attr("stroke-width", 1.2);
svg.append("line").attr("x1", 1668.1).attr("x2", 1668.1).attr("y1", 1261).attr("y2", 1830).attr("stroke", "#bbb").attr("stroke-width", 1);
svg.append("line").attr("x1", 136).attr("x2", 1668).attr("y1", 1830).attr("y2", 1830).attr("stroke", "#666").attr("stroke-width", 1.5);
const axPanelX = svg.append("g").attr("transform", "translate(0,1830)")
  .call(d3.axisBottom(xPanel).tickValues(panelTicksX.slice(0, 5)).tickFormat(d3.format("d")).tickSize(5).tickPadding(5));
styleAxis(axPanelX, 17, "#333");
svg.append("text").attr("x", xWind(680)).attr("y", 1852).attr("text-anchor", "middle").attr("font-size", 17).attr("fill", "#333").text("680");
const axPanelY = svg.append("g").attr("transform", "translate(135.9,0)")
  .call(d3.axisLeft(yPanel).tickValues(hourTicks).tickFormat(d3.format("d")));
styleAxis(axPanelY, 18.5, "#222");
svg.append("text").attr("transform", "translate(93,1545) rotate(-90)").attr("text-anchor", "middle")
  .attr("font-size", 23).attr("fill", "#222").text("Local True Solar Time (h)");

// ---- wind line
gridLines(svg.append("g"), panelTicksX, windTicks, xWind, yWind, 1.6);
svg.append("rect").attr("x", xWind(577)).attr("y", yWind(9)).attr("width", xWind(680) - xWind(577)).attr("height", yWind(4) - yWind(9))
  .attr("fill", "none").attr("stroke", "#8a8a8a").attr("stroke-width", 2);
svg.append("rect").attr("x", 1649).attr("y", 1922).attr("width", 13).attr("height", 13).attr("rx", 3)
  .attr("fill", "#fff").attr("stroke", "#ddd").attr("stroke-width", 1.2);
const windLine = d3.line().x(d => xWind(d[0])).y(d => yWind(d[1]));
[[windSolA, windA], [windSolB, windB], [windSolC, windC], [windSolD, windD]].forEach(([sx, vy]) => {
  svg.append("path").datum(sx.map((s, i) => [s, vy[i]])).attr("d", windLine)
    .attr("fill", "none").attr("stroke", "#ff0000").attr("stroke-width", 4.4)
    .attr("stroke-linejoin", "round").attr("stroke-linecap", "round");
});
svg.selectAll(".peak").data(peakSols).join("line")
  .attr("x1", d => xWind(d)).attr("x2", d => xWind(d)).attr("y1", 1833).attr("y2", (d, i) => yWind(peakWind[i]))
  .attr("stroke", "#0d4f80").attr("stroke-width", 2.4).attr("stroke-dasharray", "8,3");
const axWindX = svg.append("g").attr("transform", `translate(0,${yWind(4)})`)
  .call(d3.axisBottom(xWind).tickValues(panelTicksX).tickFormat(d3.format("d")).tickSize(4).tickPadding(5));
styleAxis(axWindX, 17, "#444");
const axWindY = svg.append("g").attr("transform", `translate(${xWind(577)},0)`)
  .call(d3.axisLeft(yWind).tickValues(windTicks).tickFormat(d3.format("d")).tickSize(4).tickPadding(4));
styleAxis(axWindY, 17.5, "#444");
svg.append("text").attr("x", 907).attr("y", 2224).attr("text-anchor", "middle").attr("font-size", 22).attr("fill", "#333").text("Sol");
svg.append("text").attr("transform", "translate(93,2045) rotate(-90)").attr("text-anchor", "middle")
  .attr("font-size", 21.5).attr("fill", "#333").text("Diurnal mean wind velocity");
svg.append("text").attr("transform", "translate(116,2045) rotate(-90)").attr("text-anchor", "middle")
  .attr("font-size", 21.5).attr("fill", "#333").text("(m/s)");
</script>
</body>
</html>
